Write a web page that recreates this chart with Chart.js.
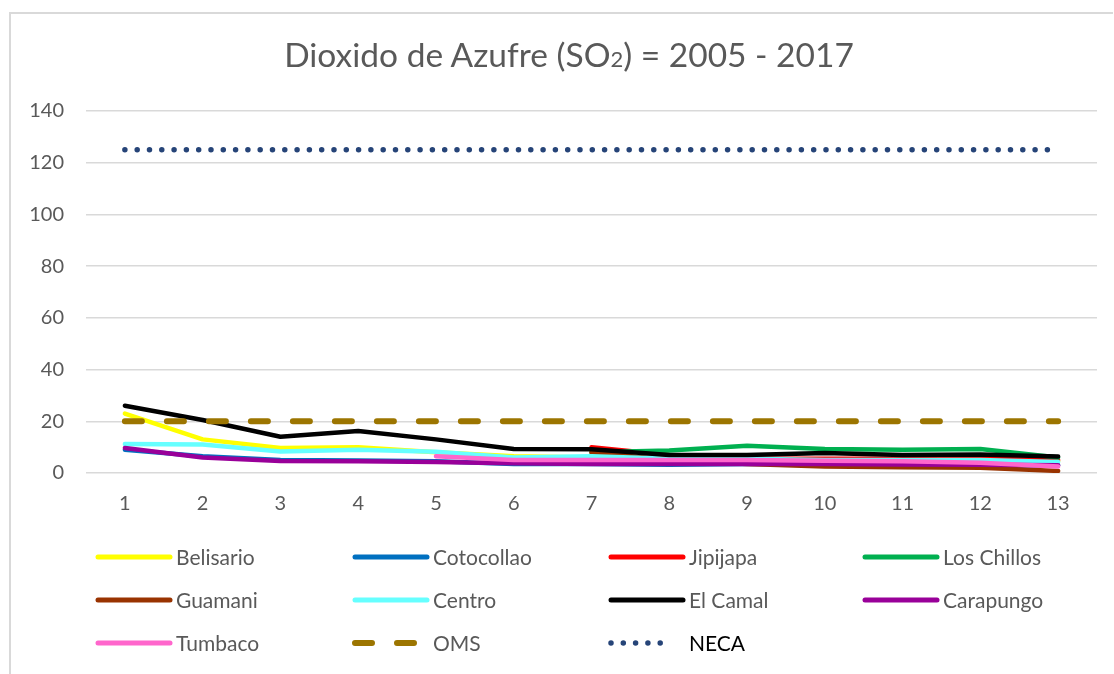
<!DOCTYPE html>
<html>
<head>
<meta charset="utf-8">
<script src="https://cdn.jsdelivr.net/npm/chart.js@4/dist/chart.umd.min.js"></script>
<style>
  html, body { margin: 0; padding: 0; background: #fff; }
  #wrap { position: relative; width: 1114px; height: 674px; overflow: hidden; font-family: Lato, "Open Sans", sans-serif; }
  #frame { position: absolute; left: 9px; top: 12px; width: 1104px; height: 700px; border-left: 2px solid #D9D9D9; border-top: 2px solid #D9D9D9; box-sizing: border-box; }
  canvas { position: absolute; left: 0; top: 0; }
  #title { position: absolute; left: 0; width: 1138px; top: 34px; text-align: center; font-size: 33.5px; color: #595959; white-space: nowrap; }
  #title .sub { font-size: 22px; }
  .lg { position: absolute; height: 24px; font-size: 21px; color: #595959; white-space: nowrap; }
  .lg svg { position: absolute; left: 0; top: 0; }
  .lg span { position: absolute; top: 0; line-height: 24px; }
</style>
</head>
<body>
<div id="wrap">
  <div id="frame"></div>
  <canvas id="c" width="1114" height="674"></canvas>
  <div id="title">Dioxido de Azufre (SO<span class="sub">2</span>) = 2005 - 2017</div>
  <div id="legend"></div>
</div>
<script>
const categories = ['1','2','3','4','5','6','7','8','9','10','11','12','13'];
const belisario  = [23, 13, 9.7, 10, 8, 6.5, 6, 5.5, 5.5, 5, 5, 4.5, 4.5];
const cotocollao = [9, 6.5, 5, 4.8, 4.5, 3.5, 3.5, 3.2, 3.5, 3.5, 3.2, 3, 3];
const jipijapa   = [null, null, null, null, null, null, 10, 7, 5.5, 5.5, 5.5, 5.5, 5];
const losChillos = [null, null, null, null, null, null, 8, 8.7, 10.5, 9.3, 9, 9.3, 6];
const guamani    = [null, null, null, null, null, null, 8, 5, 3.5, 2.5, 2.2, 2, 0.8];
const centro     = [11.2, 11, 8.3, 9, 8.2, 6, 6.5, 5.5, 5.5, 5, 5, 5, 4.3];
const elCamal    = [26, 20.5, 14, 16.2, 13, 9.3, 9.2, 7, 7, 7.7, 7, 7.2, 6.4];
const carapungo  = [9.7, 6, 4.6, 4.5, 4.3, 3.8, 3.5, 3.5, 3.5, 3.5, 3.3, 3.2, 3];
const tumbaco    = [null, null, null, null, 6.5, 5, 5, 5, 5, 4.7, 4.5, 4, 2.5];
const oms        = [20, 20, 20, 20, 20, 20, 20, 20, 20, 20, 20, 20, 20];
const neca       = [125, 125, 125, 125, 125, 125, 125, 125, 125, 125, 125, 125, 125];
const yTicks     = [0, 20, 40, 60, 80, 100, 120, 140];

const series = [
  { label: 'Belisario',  data: belisario,  color: '#FFFF00' },
  { label: 'Cotocollao', data: cotocollao, color: '#0070C0' },
  { label: 'Jipijapa',   data: jipijapa,   color: '#FF0000' },
  { label: 'Los Chillos',data: losChillos, color: '#00B050' },
  { label: 'Guamani',    data: guamani,    color: '#993300' },
  { label: 'Centro',     data: centro,     color: '#66FFFF' },
  { label: 'El Camal',   data: elCamal,    color: '#000000' },
  { label: 'Carapungo',  data: carapungo,  color: '#990099' },
  { label: 'Tumbaco',    data: tumbaco,    color: '#FF66CC' },
  { label: 'OMS',        data: oms,        color: '#9C7500', dash: [17, 25], width: 6 },
  { label: 'NECA',       data: neca,       color: '#264478', dash: [0, 12.3], width: 5.5, textColor: '#000000' }
];

const datasets = series.map((s, i) => ({
  label: s.label,
  data: s.data,
  borderColor: s.color,
  backgroundColor: s.color,
  borderWidth: s.width || 4.5,
  borderDash: s.dash || [],
  borderCapStyle: 'round',
  borderJoinStyle: 'round',
  pointRadius: 0,
  pointHoverRadius: 0,
  tension: 0,
  fill: false,
  spanGaps: false,
  order: series.length - i
}));

new Chart(document.getElementById('c'), {
  type: 'line',
  data: { labels: categories, datasets },
  options: {
    responsive: false,
    devicePixelRatio: 1,
    animation: false,
    layout: { padding: { left: 10, right: 17, top: 111, bottom: 151 } },
    plugins: { legend: { display: false }, title: { display: false }, tooltip: { enabled: false } },
    scales: {
      x: {
        offset: true,
        grid: { display: false, drawTicks: false },
        border: { display: false },
        ticks: { color: '#595959', font: { family: 'Lato', size: 20 }, padding: 19, maxRotation: 0 },
        afterFit: s => { s.height = 50; }
      },
      y: {
        min: 0, max: 140,
        afterBuildTicks: s => { s.ticks = yTicks.map(v => ({ value: v })); },
        grid: { color: '#D9D9D9', lineWidth: 1.5, drawTicks: false },
        border: { display: false },
        ticks: { color: '#595959', font: { family: 'Lato', size: 20 }, padding: 22 },
        afterFit: s => { s.width = 76; }
      }
    }
  }
});

// HTML legend in 4 columns, built from the series list
const colX = [98, 355, 611, 865];
const rowY = [545, 588, 631];
const legend = document.getElementById('legend');
series.forEach((s, i) => {
  const col = i % 4, row = Math.floor(i / 4);
  const d = document.createElement('div');
  d.className = 'lg';
  d.style.left = (colX[col] - 4) + 'px';
  d.style.top = rowY[row] + 'px';
  d.style.width = '250px';
  const w = s.width || 4.5;
  const dash = s.dash ? `stroke-dasharray="${s.dash.join(' ')}"` : '';
  d.innerHTML = `<svg width="84" height="24"><line x1="4" y1="12" x2="${s.label === 'NECA' ? 56 : 76}" y2="12" stroke="${s.color}" stroke-width="${s.dash ? w : 5}" stroke-linecap="round" ${dash}/></svg><span style="left:82px;color:${s.textColor || '#595959'}">${s.label}</span>`;
  legend.appendChild(d);
});
</script>
</body>
</html>
